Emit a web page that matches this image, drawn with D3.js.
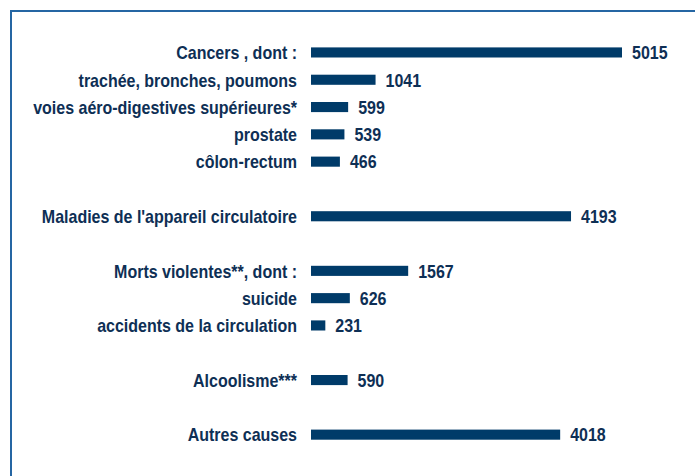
<!DOCTYPE html>
<html>
<head>
<meta charset="utf-8">
<script src="https://cdn.jsdelivr.net/npm/d3@7"></script>
<style>
  body { margin: 0; background: #fff; }
  svg text { font-family: "Liberation Sans", Arial, sans-serif; font-weight: bold; }
</style>
</head>
<body>
<svg id="chart" width="695" height="476"></svg>
<script>
// rows of the chart, blanks are empty gaps between groups
const causes = [
  'Cancers , dont :', 'trachée, bronches, poumons', 'voies aéro-digestives supérieures*',
  'prostate', 'côlon-rectum', '', 'Maladies de l\'appareil circulatoire', '',
  'Morts violentes**, dont :', 'suicide', 'accidents de la circulation', '',
  'Alcoolisme***', '', 'Autres causes'
];
const deaths = [5015, 1041, 599, 539, 466, null, 4193, null, 1567, 626, 231, null, 590, null, 4018];

const rows = causes.map((c, i) => ({ key: 'r' + i, label: c, value: deaths[i] }));

const svg = d3.select('#chart');

// frame, only top and left sides are in view
svg.append('path')
  .attr('d', 'M11,480V11H700')
  .attr('fill', 'none')
  .attr('stroke', '#2566a3')
  .attr('stroke-width', 2);

const x = d3.scaleLinear().domain([0, 5015]).range([311, 622]);
const y = d3.scaleBand()
  .domain(rows.map(d => d.key))
  .range([38.8, 448.3])
  .paddingInner(0.63)
  .paddingOuter(0.315);

const bars = rows.filter(d => d.value !== null);

svg.append('g').selectAll('rect')
  .data(bars)
  .enter()
  .append('rect')
  .attr('x', x(0))
  .attr('y', d => y(d.key))
  .attr('width', d => x(d.value) - x(0))
  .attr('height', y.bandwidth())
  .attr('fill', '#003b69');

// narrow bold look: squeeze regular Liberation Sans horizontally
const fs = 19;
const probe = svg.append('text').attr('font-size', fs).text(causes[2]);
const squeeze = 264 / probe.node().getComputedTextLength();
probe.remove();

svg.append('g').selectAll('text')
  .data(bars)
  .enter()
  .append('text')
  .attr('transform', d => `translate(297,${y(d.key) + y.bandwidth() / 2}) scale(${squeeze},1)`)
  .attr('dy', '0.36em')
  .attr('text-anchor', 'end')
  .attr('font-size', fs)
  .attr('fill', '#0e2f55')
  .text(d => d.label);

svg.append('g').selectAll('text')
  .data(bars)
  .enter()
  .append('text')
  .attr('transform', d => `translate(${x(d.value) + 10},${y(d.key) + y.bandwidth() / 2}) scale(${squeeze},1)`)
  .attr('dy', '0.36em')
  .attr('font-size', fs)
  .attr('fill', '#0e2f55')
  .text(d => d.value);
</script>
</body>
</html>
